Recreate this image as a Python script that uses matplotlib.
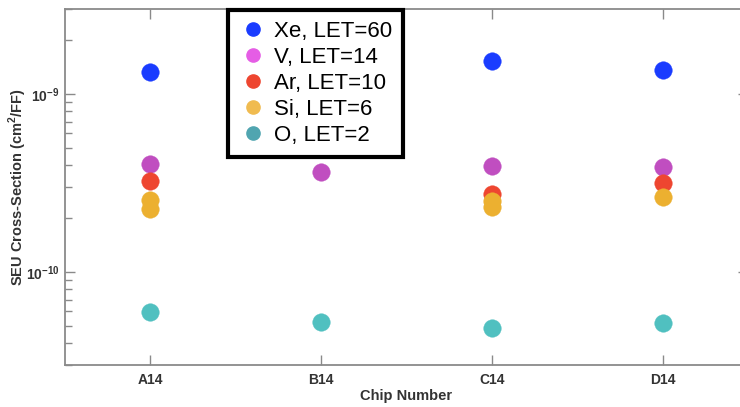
import numpy as np
import matplotlib
matplotlib.use("Agg")
import matplotlib.pyplot as plt
from matplotlib.lines import Line2D
from matplotlib.ticker import FixedLocator, LogLocator, NullFormatter, FixedFormatter

plt.rcParams['font.family'] = ['Liberation Sans', 'DejaVu Sans']
plt.rcParams['mathtext.fontset'] = 'custom'
plt.rcParams['mathtext.rm'] = 'Liberation Sans'
plt.rcParams['mathtext.bf'] = 'Liberation Sans:bold'

# SEU cross-section per flip-flop for each chip, by ion species
chips = ["A14", "B14", "C14", "D14"]
xe_60 = [1.33e-9, np.nan, 1.53e-9, 1.36e-9]
v_14 = [4.04e-10, 3.66e-10, 3.96e-10, 3.90e-10]
ar_10 = [3.25e-10, np.nan, 2.73e-10, 3.17e-10]
si_6 = [2.54e-10, np.nan, 2.50e-10, 2.63e-10]
si_6_repeat = [2.26e-10, np.nan, 2.33e-10, np.nan]
o_2 = [5.96e-11, 5.22e-11, 4.87e-11, 5.15e-11]

legend_labels = ["Xe, LET=60", "V, LET=14", "Ar, LET=10", "Si, LET=6", "O, LET=2"]
ytick_values = [1e-10, 1e-9]
ytick_labels = [r"$\mathbf{10^{-10}}$", r"$\mathbf{10^{-9}}$"]

c_xe, c_v, c_ar, c_si, c_o = "#1a3cff", "#c04ec0", "#ee4630", "#ecb030", "#50c0c0"
legend_colors = ["#1a3cff", "#e55de5", "#ee4630", "#f0bb50", "#50a5b0"]

fig = plt.figure(figsize=(7.4, 4.07), dpi=100)
ax = fig.add_axes([65 / 740, 42 / 407, 683 / 740, 356 / 407])

x = np.arange(1, len(chips) + 1)
ms = 12.6
for vals, col in [(xe_60, c_xe), (v_14, c_v), (ar_10, c_ar),
                  (si_6, c_si), (si_6_repeat, c_si), (o_2, c_o)]:
    ax.plot(x, vals, linestyle="none", marker="o", markersize=ms,
            markerfacecolor=col, markeredgecolor=col, markeredgewidth=0.3)

ax.set_yscale("log")
ax.set_ylim(3e-11, 3e-9)
ax.set_xlim(0.5, len(chips) + 0.5)

ax.xaxis.set_major_locator(FixedLocator(x))
ax.set_xticklabels(chips)
ax.yaxis.set_major_locator(FixedLocator(ytick_values))
ax.yaxis.set_major_formatter(FixedFormatter(ytick_labels))
ax.yaxis.set_minor_locator(LogLocator(base=10, subs=np.arange(2, 10)))
ax.yaxis.set_minor_formatter(NullFormatter())

spine_col = "#8a8a8a"
for s in ax.spines.values():
    s.set_color(spine_col)
    s.set_linewidth(1.3)

ax.tick_params(axis="both", which="both", direction="in", color=spine_col,
               top=True, right=True, width=1.0, labelcolor="#333333")
ax.tick_params(axis="both", which="major", length=7)
ax.tick_params(axis="x", which="major", labelsize=10, pad=6)
ax.tick_params(axis="y", which="major", labelsize=10, pad=4)
ax.tick_params(axis="y", which="minor", length=5)
for lab in ax.get_xticklabels():
    lab.set_fontweight("bold")

ax.set_xlabel("Chip Number", fontsize=10.5, fontweight="bold", color="#333333", labelpad=1)
ax.set_ylabel(r"SEU Cross-Section (cm$^{\mathbf{2}}$/FF)", fontsize=10.5,
              fontweight="bold", color="#333333")
ax.yaxis.set_label_coords(-0.053, 0.5)

handles = [Line2D([], [], linestyle="none", marker="o", markersize=9.5,
                  markerfacecolor=c, markeredgecolor=c) for c in legend_colors]
leg = fig.legend(handles, legend_labels, loc="upper left",
                 bbox_to_anchor=(228 / 740, 1 - 10 / 407), fontsize=16,
                 frameon=True, fancybox=False, framealpha=1, edgecolor="black",
                 handlelength=1.26, handletextpad=0.32, labelspacing=0.22,
                 borderpad=0.5, borderaxespad=0)
leg.get_frame().set_linewidth(3.0)

fig.savefig("out.png", dpi=100)
